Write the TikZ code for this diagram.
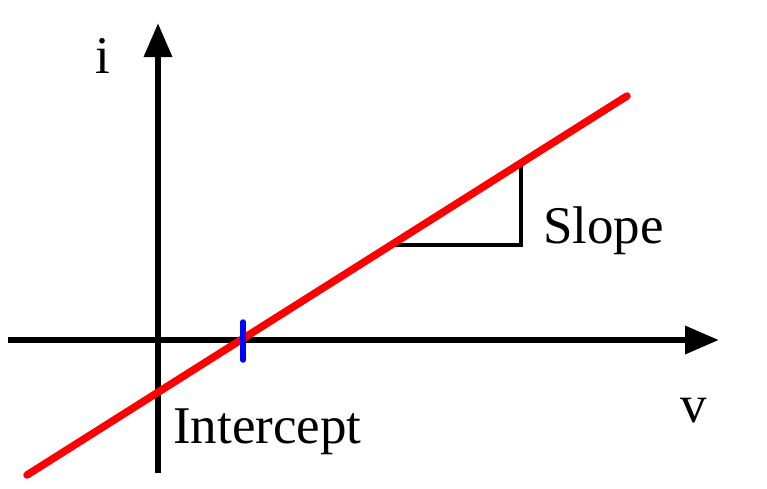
\documentclass[tikz,border=0pt]{standalone}
\usepackage{fontspec}
\setmainfont{Liberation Serif}
\usetikzlibrary{arrows.meta}
\begin{document}
\begin{tikzpicture}[x=1pt,y=-1pt,
  axis/.style={line width=6.5pt,-{Triangle[length=34pt,width=27pt]}},
  lab/.style={anchor=base west,inner sep=0pt,font=\fontsize{53}{60}\selectfont}]
\useasboundingbox (0,0) rectangle (767,488);
% axes
\coordinate (xs) at (8,340);
\coordinate (xe) at (719,340);
\coordinate (ys) at (158,473);
\coordinate (ye) at (158,23);
\draw[axis] (xs) -- (xe);
\draw[axis] (ys) -- (ye);
% slope triangle
\coordinate (t1) at (388,245);
\coordinate (t2) at (521,245);
\coordinate (t3) at (521,160);
\draw[line width=3.5pt] (t1) -- (t2) -- (t3);
% red line
\coordinate (r1) at (27,475);
\coordinate (r2) at (627,96);
\draw[red,line width=7.5pt,line cap=round] (r1) -- (r2);
% blue tick
\coordinate (b1) at (243,322);
\coordinate (b2) at (243,360);
\draw[blue,line width=5.5pt,line cap=round] (b1) -- (b2);
% labels
\node[lab] (li) at (95,73) {i};
\node[lab] (lv) at (680,422) {v};
\node[lab] (ls) at (543,243) {Slope};
\node[lab] (lint) at (173,443) {Intercept};
\end{tikzpicture}
\end{document}
